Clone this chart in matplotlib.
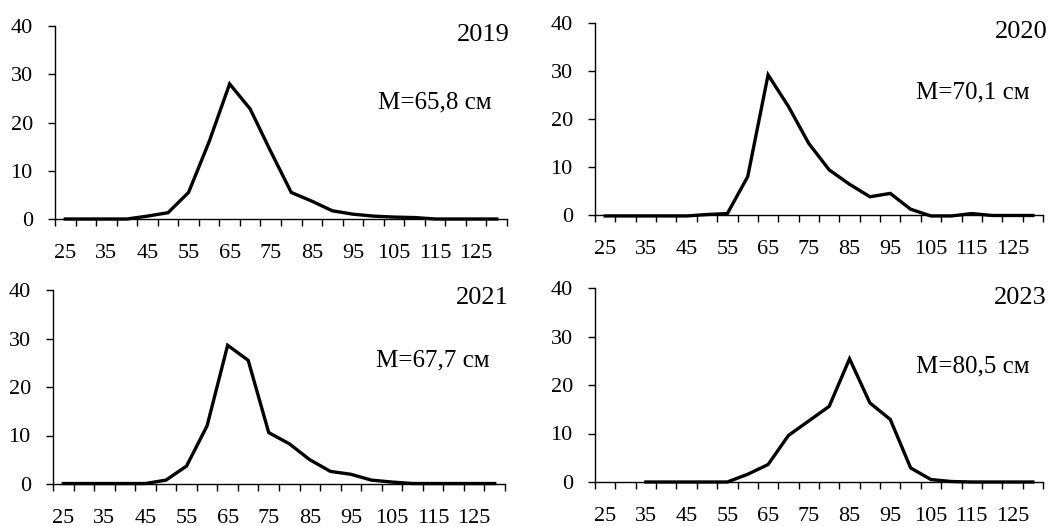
import numpy as np
import matplotlib
matplotlib.use('Agg')
import matplotlib.pyplot as plt

# length classes, cm
classes = list(range(25, 135, 5))

# share of fish per class, %
y2019 = [0, 0, 0, 0, 0.6, 1.3, 5.5, 16.0, 28.0, 22.8, 14.0, 5.5, 3.7, 1.7, 1.0, 0.6, 0.4, 0.3, 0, 0, 0, 0]
y2020 = [-0.2, -0.2, -0.2, -0.2, -0.2, 0.1, 0.3, 8.0, 29.2, 22.6, 14.9, 9.4, 6.4, 3.8, 4.5, 1.2, -0.2, -0.2, 0.3, -0.1, -0.1, -0.1]
y2021 = [0.1, 0.1, 0.1, 0.1, 0.1, 0.8, 3.7, 12.0, 28.6, 25.5, 10.6, 8.3, 5.0, 2.6, 2.0, 0.8, 0.4, 0.1, 0.1, 0.1, 0.1, 0.1]
y2023 = [np.nan, np.nan, 0, 0, 0, 0, 0, 1.6, 3.6, 9.6, 12.6, 15.6, 25.4, 16.3, 12.9, 2.9, 0.5, 0.1, 0, 0, 0, 0]

years = ['2019', '2020', '2021', '2023']
means = ['M=65,8 см', 'M=70,1 см', 'M=67,7 см', 'M=80,5 см']
series = [y2019, y2020, y2021, y2023]

plt.rcParams['font.family'] = ['Liberation Serif', 'DejaVu Serif']

W, H = 1062, 526
fig = plt.figure(figsize=(W / 100, H / 100), dpi=100)

# axes boxes in pixels: left, right, y of zero line, y of top (40)
boxes = [(55, 507, 219, 26), (595, 1043, 215, 23), (53, 505, 484, 290), (595, 1043, 482, 288)]
# text anchors in axes fraction: (year x, year y, mean x, mean y)
txt = [(1.007, 0.953, 0.967, 0.606), (1.011, 0.953, 0.971, 0.640),
       (1.009, 0.959, 0.967, 0.639), (1.009, 0.948, 0.971, 0.598)]

x = np.arange(len(classes))
for k in range(4):
    l, r, y0, yt = boxes[k]
    ax = fig.add_axes([l / W, (H - y0) / H, (r - l) / W, (y0 - yt) / H])
    ax.plot(x, series[k], color='black', lw=2.4, clip_on=False, solid_joinstyle='miter')
    ax.set_xlim(-0.5, len(classes) - 0.5)
    ax.set_ylim(0, 40)
    ax.set_yticks([0, 10, 20, 30, 40])
    ax.spines['top'].set_visible(False)
    ax.spines['right'].set_visible(False)
    for s in ['left', 'bottom']:
        ax.spines[s].set_linewidth(1.0)
    # tick marks between categories, labels on every other category
    ax.set_xticks(np.arange(len(classes) + 1) - 0.5)
    ax.set_xticklabels([])
    ax.set_xticks(x[::2], minor=True)
    ax.set_xticklabels([str(c) for c in classes[::2]], minor=True)
    ax.tick_params(axis='x', which='major', direction='out', length=5, width=1.0)
    ax.tick_params(axis='x', which='minor', length=0, pad=18, labelsize=16)
    ax.tick_params(axis='y', direction='out', length=5, width=1.0, pad=11, labelsize=16)
    yx, yy, mx, my = txt[k]
    ax.text(yx, yy, years[k], transform=ax.transAxes, ha='right', va='center', fontsize=19)
    ax.text(mx, my, means[k], transform=ax.transAxes, ha='right', va='center', fontsize=18)

fig.savefig('out.png', dpi=100)
